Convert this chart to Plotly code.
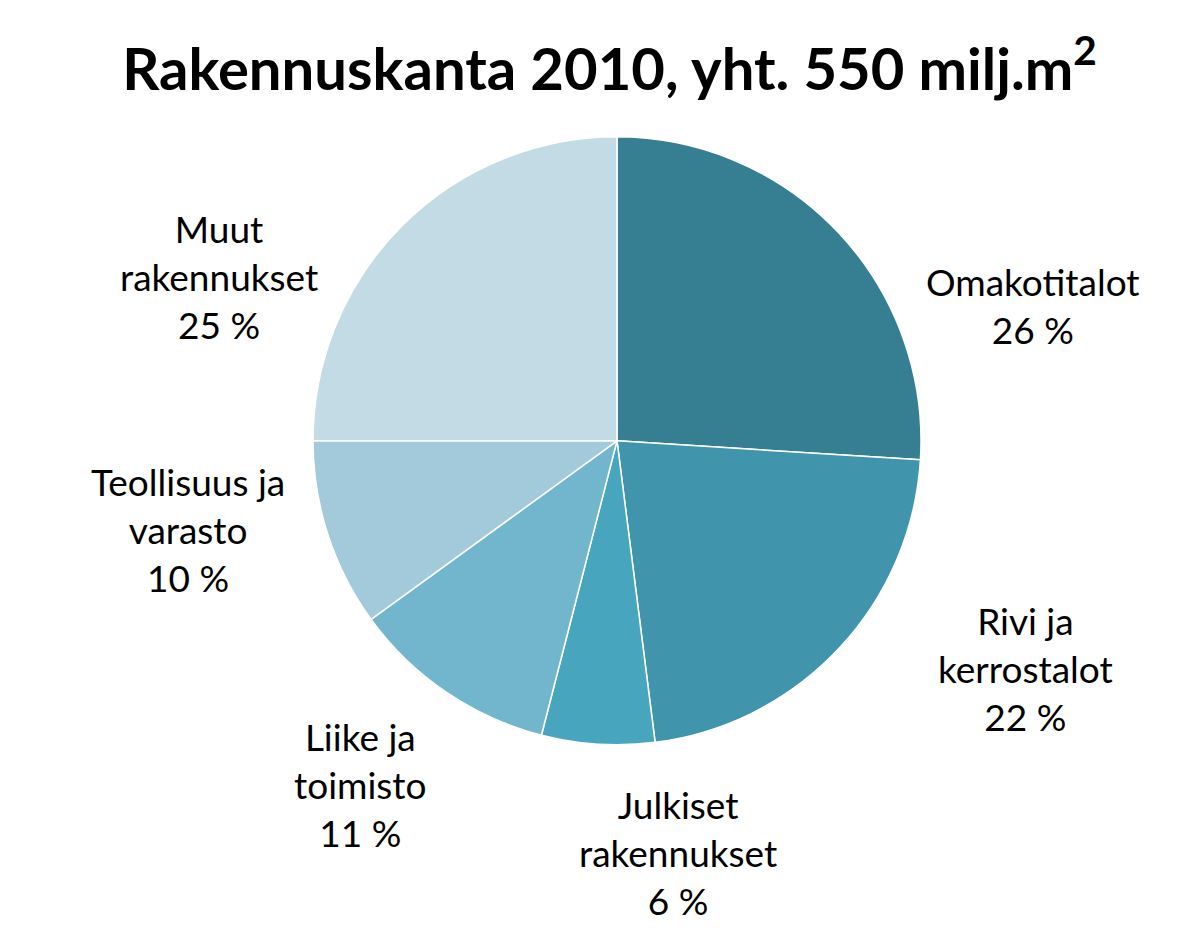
import plotly.graph_objects as go

labels = ["Omakotitalot", "Rivi ja<br>kerrostalot", "Julkiset<br>rakennukset",
          "Liike ja<br>toimisto", "Teollisuus ja<br>varasto", "Muut<br>rakennukset"]
values = [26, 22, 6, 11, 10, 25]
colors = ["#367E91", "#4095AC", "#48A5BE", "#72B6CD", "#A2CADB", "#C2DBE5"]
# label anchor positions (paper coords)
label_x = [0.852, 0.846, 0.557, 0.293, 0.150, 0.175]
label_y = [0.686, 0.303, 0.108, 0.180, 0.449, 0.717]

fig = go.Figure(go.Pie(
    labels=labels, values=values, sort=False, direction="clockwise", rotation=0,
    marker=dict(colors=colors, line=dict(color="white", width=1.5)),
    textinfo="none", hoverinfo="label+percent",
    domain=dict(x=[0.2535, 0.759], y=[0.222, 0.864]),
))

for lab, v, x, y in zip(labels, values, label_x, label_y):
    fig.add_annotation(text=f"{lab}<br>{v} %", x=x, y=y, xref="paper", yref="paper",
                       xanchor="center", yanchor="middle",
                       showarrow=False, font=dict(size=37, color="black"))

fig.update_layout(
    title=dict(text="<b>Rakennuskanta 2010, yht. 550 milj.m<sup>2</sup></b>",
               x=0.5, xanchor="center", y=0.935, yanchor="middle",
               font=dict(size=58, color="black")),
    font=dict(family="Lato"),
    showlegend=False,
    margin=dict(l=0, r=0, t=0, b=0),
    paper_bgcolor="white",
    width=1203, height=947,
)
fig.write_html("out.html")
